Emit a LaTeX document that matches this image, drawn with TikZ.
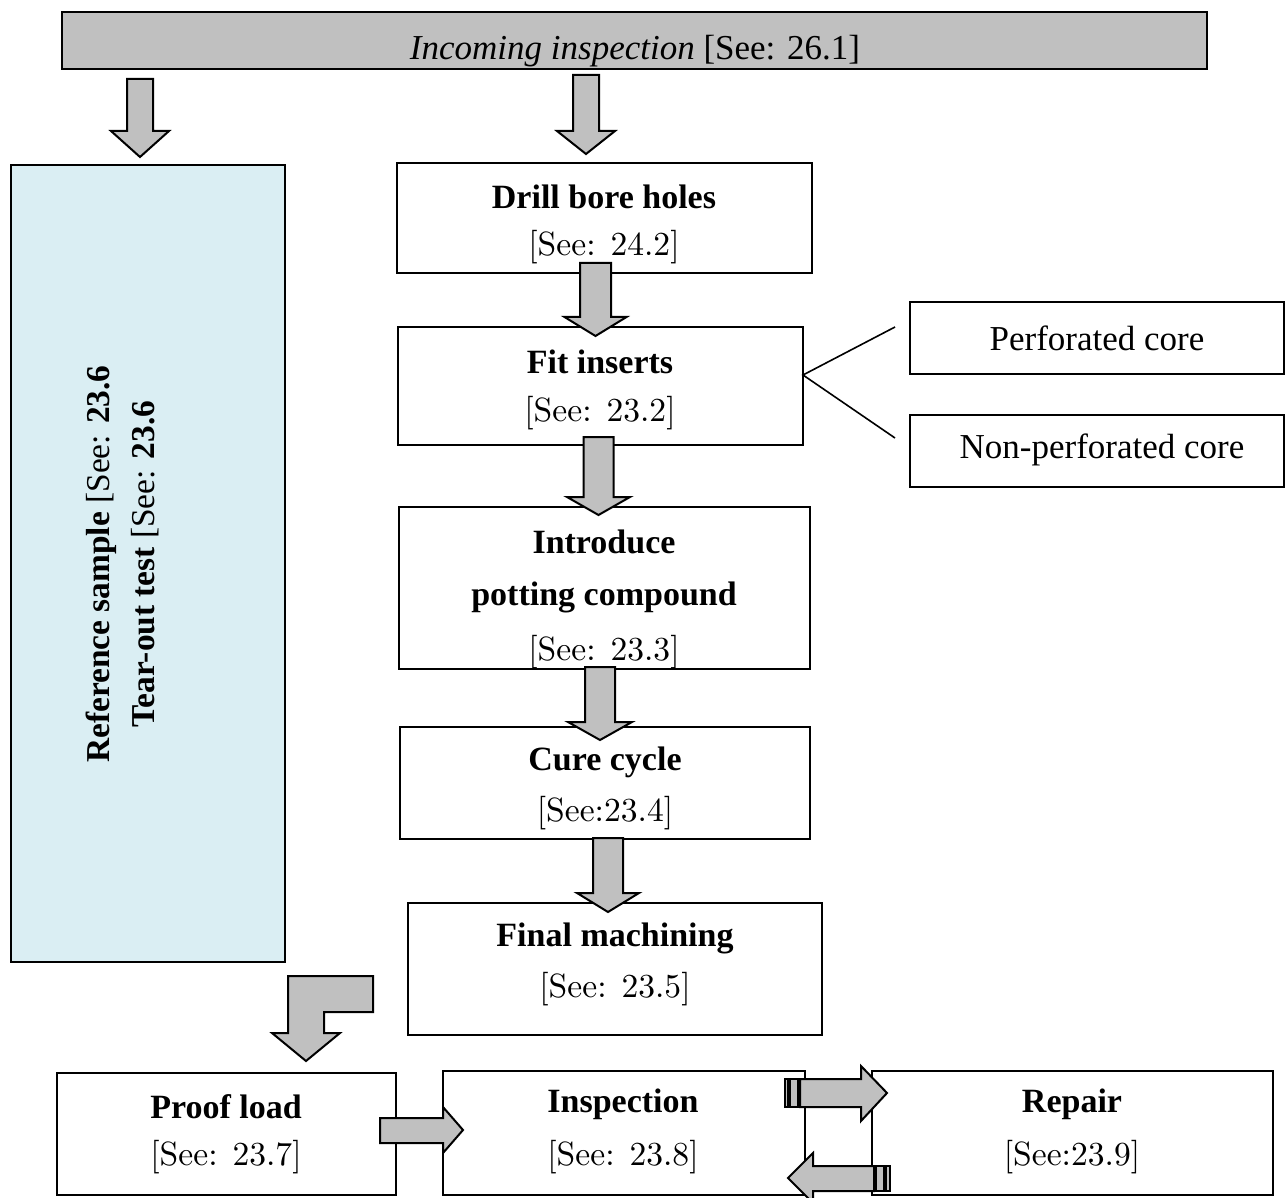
\documentclass[tikz,border=0pt]{standalone}
\usepackage{fontspec}
\newfontfamily\palfont{Liberation Serif}
\newfontfamily\seefont{lmroman10-regular.otf}
\usetikzlibrary{fit}
\definecolor{arrgray}{HTML}{C0C0C0}
\definecolor{lblue}{HTML}{DAEEF3}
\tikzset{
  box/.style={draw, line width=1pt, fill=white, inner sep=0pt},
  blockarrow/.style={draw, line width=1pt, fill=arrgray, line join=miter},
  ttl/.style={font=\palfont\fontsize{17}{20}\selectfont\bfseries, inner sep=0pt},
  reftxt/.style={font=\seefont\fontsize{16.8}{20}\selectfont, inner sep=0pt},
  sidetxt/.style={font=\palfont\fontsize{17.5}{20}\selectfont, inner sep=0pt},
}
\newcommand{\dnarrow}[6]{% cx, ytop, yhead, ytip, halfshaft, halfhead
  \draw[blockarrow] ({#1-#5},#2) -- ({#1+#5},#2) -- ({#1+#5},#3) -- ({#1+#6},#3)
    -- (#1,#4) -- ({#1-#6},#3) -- ({#1-#5},#3) -- cycle;}
\begin{document}
\begin{tikzpicture}[x=0.5pt,y=-0.5pt]
\useasboundingbox (0,0) rectangle (1285,1198);
% boxes
\node[box, fill=arrgray, fit={(62,12) (1207,69)}] (bar) {};
\node[box, fill=lblue, fit={(11,165) (285,962)}] (sample) {};
\node[box, fit={(397,163) (812,273)}] (drill) {};
\node[box, fit={(398,327) (803,445)}] (fitb) {};
\node[box, fit={(910,302) (1284,374)}] (perf) {};
\node[box, fit={(910,415) (1284,487)}] (nonperf) {};
\node[box, fit={(399,507) (810,669)}] (intro) {};
\node[box, fit={(400,727) (810,839)}] (cure) {};
\node[box, fit={(408,903) (822,1035)}] (final) {};
\node[box, fit={(57,1073) (396,1195)}] (proof) {};
\node[box, fit={(443,1071) (805,1195)}] (insp) {};
\node[box, fit={(872,1071) (1273,1195)}] (repair) {};
% texts
\begin{scope}
\clip (62,12) rectangle (1207,68.5);
\node[font=\palfont\fontsize{17.5}{20}\selectfont, inner sep=0pt, anchor=base] (barT) at (635,60)
  {\textit{Incoming inspection} [See: 26.1]};
\end{scope}
\node[rotate=90, align=center, font=\palfont\fontsize{16.7}{22.5}\selectfont, inner sep=0pt] (sampleT) at (122,564)
  {\textbf{Reference sample} [See: \textbf{23.6}\\ \textbf{Tear-out test} [See: \textbf{23.6}};
\node[ttl] (drillT) at (604,197) {Drill bore holes};
\node[reftxt] (drillR) at (604,247) {[See: 24.2]};
\node[ttl] (fitT) at (600,362) {Fit inserts};
\node[reftxt] (fitR) at (600,413) {[See: 23.2]};
\node[sidetxt] (perfT) at (1097,338) {Perforated core};
\node[sidetxt] (nonperfT) at (1102,450) {Non-perforated core};
\node[ttl] (introT1) at (604,542) {Introduce};
\node[ttl] (introT2) at (604,597) {potting compound};
\begin{scope}
\clip (399,507) rectangle (810,668.5);
\node[reftxt] (introR) at (604,652) {[See: 23.3]};
\end{scope}
\node[ttl] (cureT) at (605,762) {Cure cycle};
\node[reftxt] (cureR) at (605,813) {[See:23.4]};
\node[ttl] (finalT) at (615,938) {Final machining};
\node[reftxt] (finalR) at (615,989) {[See: 23.5]};
\node[ttl] (proofT) at (226,1107) {Proof load};
\node[reftxt] (proofR) at (226,1157) {[See: 23.7]};
\node[ttl] (inspT) at (623,1104) {Inspection};
\node[reftxt] (inspR) at (623,1157) {[See: 23.8]};
\node[ttl] (repairT) at (1072,1104) {Repair};
\node[reftxt] (repairR) at (1072,1157) {[See:23.9]};
% branch lines
\coordinate (junc) at (803,375);
\coordinate (perfEnd) at (895,327);
\coordinate (nonperfEnd) at (895,438);
\draw[line width=0.8pt] (perfEnd) -- (junc) -- (nonperfEnd);
% block arrows
\dnarrow{140}{79}{131}{157}{13}{29}
\dnarrow{586}{75}{131}{154}{13}{29}
\dnarrow{595.5}{263}{317}{336}{15.5}{31}
\dnarrow{598.5}{437}{497}{515}{15}{31.5}
\dnarrow{600}{667}{722}{740}{15}{32}
\dnarrow{608}{838}{893}{912}{15}{31}
\draw[blockarrow] (373,976) -- (288,976) -- (288,1033) -- (272,1033) -- (306,1061)
  -- (340,1033) -- (324,1033) -- (324,1012) -- (373,1012) -- cycle;
\draw[blockarrow] (380,1118) -- (443,1118) -- (443,1107) -- (463,1130) -- (443,1153)
  -- (443,1143) -- (380,1143) -- cycle;
% inspection -> repair
\draw[blockarrow] (800,1079) -- (861,1079) -- (861,1066) -- (887,1093) -- (861,1121)
  -- (861,1107) -- (800,1107) -- cycle;
\draw[blockarrow] (790,1079) rectangle (798,1107);
\draw[blockarrow] (784.5,1079) rectangle (788,1107);
% repair -> inspection
\draw[blockarrow] (874,1166) -- (813,1166) -- (813,1153) -- (788,1178) -- (813,1203)
  -- (813,1191) -- (874,1191) -- cycle;
\draw[blockarrow] (876,1166) rectangle (884,1191);
\draw[blockarrow] (886,1166) rectangle (889.5,1191);
\end{tikzpicture}
\end{document}
